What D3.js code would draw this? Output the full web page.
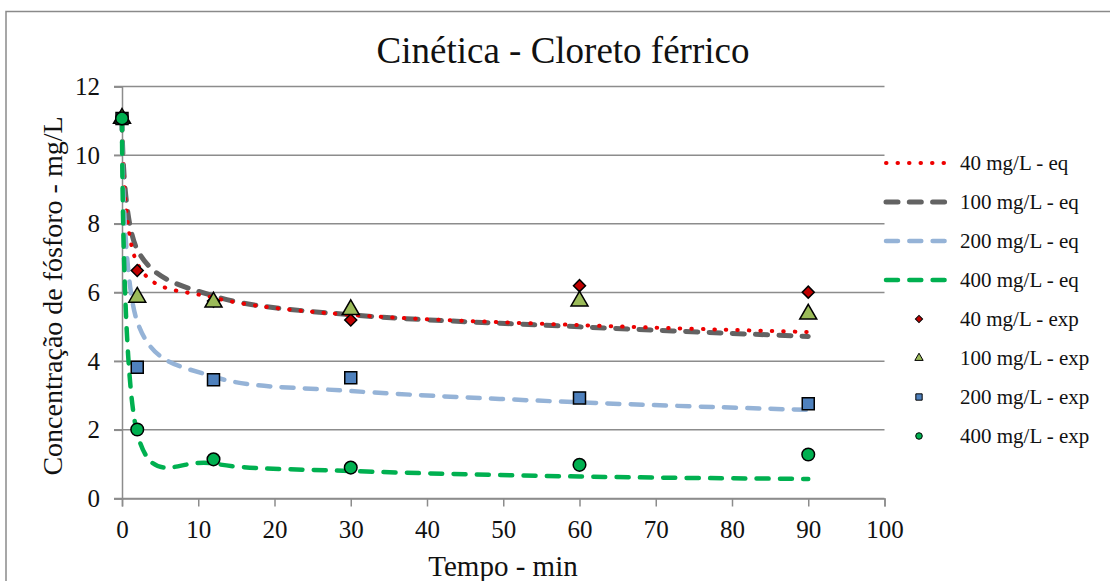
<!DOCTYPE html>
<html>
<head>
<meta charset="utf-8">
<script src="https://cdn.jsdelivr.net/npm/d3@7"></script>
<style>
    body { margin: 0; background: #fff; }
    svg { display: block; }
    svg text { font-family: "Liberation Serif", "Times New Roman", serif; }
</style>
</head>
<body>
<svg width="1110" height="581"></svg>
<script>
// sample times (min)
var times = [0, 2, 12, 30, 60, 90];

// model curves (eq)
var eq40 = [11.07, 6.85, 5.85, 5.35, 5.05, 4.85];
var eq100 = [11.07, 7.25, 5.9, 5.35, 5.0, 4.72];
var eq200 = [11.07, 5.15, 3.55, 3.13, 2.8, 2.58];
var eq400 = [11.07, 1.9, 1.02, 0.8, 0.64, 0.57];

// experimental points (exp)
var exp40 = [11.07, 6.64, 5.75, 5.2, 6.2, 6.01];
var exp100 = [11.07, 5.86, 5.72, 5.5, 5.75, 5.37];
var exp200 = [11.07, 3.82, 3.46, 3.52, 2.93, 2.76];
var exp400 = [11.07, 2.01, 1.14, 0.9, 0.98, 1.28];

var xTicks = [0, 10, 20, 30, 40, 50, 60, 70, 80, 90, 100];
var yTicks = [0, 2, 4, 6, 8, 10, 12];

var eqLabels = ["40 mg/L - eq", "100 mg/L - eq", "200 mg/L - eq", "400 mg/L - eq"];
var expLabels = ["40 mg/L - exp", "100 mg/L - exp", "200 mg/L - exp", "400 mg/L - exp"];

var serif = "Liberation Serif, Times New Roman, serif";
var svg = d3.select("svg");

// chart border
svg.append("rect")
    .attr("x", 6).attr("y", 11.5)
    .attr("width", 1200).attr("height", 700)
    .attr("fill", "none")
    .attr("stroke", "#8a8a8a")
    .attr("stroke-width", 1.5);

// scales
var x = d3.scaleLinear().domain([0, 100]).range([122, 884.5]);
var y = d3.scaleLinear().domain([0, 12]).range([498.5, 86.5]);

// gridlines
svg.append("g")
    .selectAll("line")
    .data(yTicks)
    .enter().append("line")
    .attr("x1", 114).attr("x2", x(100))
    .attr("y1", function (d) { return y(d); })
    .attr("y2", function (d) { return y(d); })
    .attr("stroke", "#8c8c8c")
    .attr("stroke-width", 1.5);

// y axis
var yAxis = svg.append("g")
    .attr("transform", "translate(" + x(0) + ",0)")
    .call(d3.axisLeft(y).tickValues(yTicks).tickSize(8).tickPadding(14));
yAxis.select(".domain").attr("stroke", "#8c8c8c").attr("stroke-width", 1.5);
yAxis.selectAll(".tick line").attr("stroke", "#8c8c8c").attr("stroke-width", 1.5);
yAxis.selectAll("text")
    .attr("font-family", serif)
    .attr("font-size", "25px")
    .attr("fill", "#111");

// x axis
var xAxis = svg.append("g")
    .attr("transform", "translate(0," + y(0) + ")")
    .call(d3.axisBottom(x).tickValues(xTicks).tickSize(8).tickPadding(14));
xAxis.select(".domain").attr("stroke", "#8c8c8c").attr("stroke-width", 1.5);
xAxis.selectAll(".tick line").attr("stroke", "#8c8c8c").attr("stroke-width", 1.5);
xAxis.selectAll("text")
    .attr("font-family", serif)
    .attr("font-size", "25px")
    .attr("fill", "#111");

// titles
svg.append("text")
    .attr("x", 563).attr("y", 63)
    .attr("text-anchor", "middle")
    .attr("font-family", serif)
    .attr("font-size", "37px")
    .attr("fill", "#111")
    .text("Cinética - Cloreto férrico");

svg.append("text")
    .attr("x", 503).attr("y", 576)
    .attr("text-anchor", "middle")
    .attr("font-family", serif)
    .attr("font-size", "29px")
    .attr("fill", "#111")
    .text("Tempo - min");

svg.append("text")
    .attr("transform", "translate(62,296) rotate(-90)")
    .attr("text-anchor", "middle")
    .attr("font-family", serif)
    .attr("font-size", "28px")
    .attr("fill", "#111")
    .text("Concentração de fósforo - mg/L");

// line styles for the eq series
var eqSeries = [
    { name: eqLabels[1], values: eq100, color: "#636363", dash: "12 11.3", width: 5 },
    { name: eqLabels[0], values: eq40, color: "#ee0000", dash: "0.5 11", width: 4 },
    { name: eqLabels[2], values: eq200, color: "#95b3d7", dash: "12 11.3", width: 4.5 },
    { name: eqLabels[3], values: eq400, color: "#00b050", dash: "12 11.3", width: 4.5 }
];

var line = d3.line()
    .x(function (d, i) { return x(times[i]); })
    .y(function (d) { return y(d); })
    .curve(d3.curveCardinal.tension(0));

svg.append("g")
    .selectAll("path")
    .data(eqSeries)
    .enter().append("path")
    .attr("d", function (d) { return line(d.values); })
    .attr("fill", "none")
    .attr("stroke", function (d) { return d.color; })
    .attr("stroke-width", function (d) { return d.width; })
    .attr("stroke-dasharray", function (d) { return d.dash; })
    .attr("stroke-linecap", "round");

// marker styles for the exp series
var expSeries = [
    { name: expLabels[0], values: exp40, fill: "#c00000", symbol: d3.symbolSquare, size: 72, rot: 45, legSize: 26 },
    { name: expLabels[1], values: exp100, fill: "#9bbb59", symbol: d3.symbolTriangle, size: 125, rot: 0, legSize: 30 },
    { name: expLabels[2], values: exp200, fill: "#4f81bd", symbol: d3.symbolSquare, size: 144, rot: 0, legSize: 40 },
    { name: expLabels[3], values: exp400, fill: "#00b050", symbol: d3.symbolCircle, size: 125, rot: 0, legSize: 34 }
];

expSeries.forEach(function (s) {
    svg.append("g")
        .selectAll("path")
        .data(s.values)
        .enter().append("path")
        .attr("d", d3.symbol().type(s.symbol).size(s.size))
        .attr("transform", function (d, i) {
            return "translate(" + x(times[i]) + "," + y(d) + ") rotate(" + s.rot + ")";
        })
        .attr("fill", s.fill)
        .attr("stroke", "#000")
        .attr("stroke-width", 1.5);
});

// legend
var legX = 884, legY = 163, legStep = 39;
var leg = svg.append("g").attr("class", "legend");

var legOrder = [eqSeries[1], eqSeries[0], eqSeries[2], eqSeries[3]];
legOrder.forEach(function (s, i) {
    var yy = legY + i * legStep;
    leg.append("line")
        .attr("x1", legX + 2).attr("x2", legX + 64)
        .attr("y1", yy).attr("y2", yy)
        .attr("stroke", s.color)
        .attr("stroke-width", s.width)
        .attr("stroke-dasharray", s.dash)
        .attr("stroke-linecap", "round");
    leg.append("text")
        .attr("x", 960).attr("y", yy)
        .attr("dy", "0.35em")
        .attr("font-family", serif)
        .attr("font-size", "21px")
        .attr("fill", "#111")
        .text(s.name);
});

expSeries.forEach(function (s, i) {
    var yy = legY + (i + 4) * legStep;
    leg.append("path")
        .attr("d", d3.symbol().type(s.symbol).size(s.legSize))
        .attr("transform", "translate(919," + yy + ") rotate(" + s.rot + ")")
        .attr("fill", s.fill)
        .attr("stroke", "#000")
        .attr("stroke-width", 1);
    leg.append("text")
        .attr("x", 960).attr("y", yy)
        .attr("dy", "0.35em")
        .attr("font-family", serif)
        .attr("font-size", "21px")
        .attr("fill", "#111")
        .text(s.name);
});
</script>
</body>
</html>
